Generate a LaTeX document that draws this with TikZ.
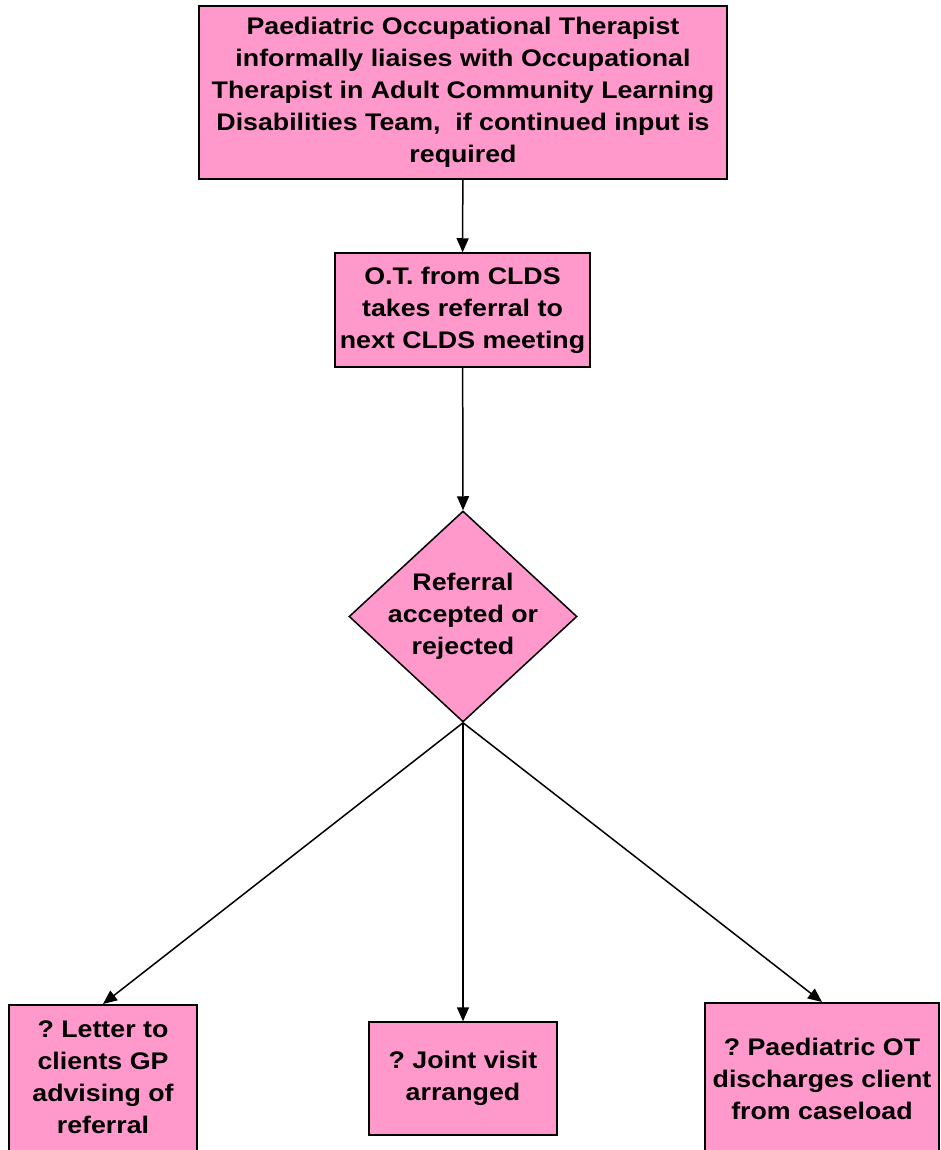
\documentclass[tikz,border=0pt]{standalone}
\usepackage{fontspec}
\setmainfont{Liberation Sans}[FakeStretch=1.115]
\usetikzlibrary{arrows.meta,shapes.geometric}
\definecolor{boxpink}{RGB}{255,153,204}
\begin{document}
\begin{tikzpicture}[x=1pt,y=-1pt,
  box/.style={draw=black, line width=1.5pt, fill=boxpink, inner sep=0pt},
  txt/.style={align=center, inner sep=0pt, font=\fontsize{24}{32}\selectfont\bfseries},
  conn/.style={line width=1.5pt, -{Triangle[length=14pt,width=12pt]}}]
\useasboundingbox (0,0) rectangle (940,1150);
\clip (0,0) rectangle (940,1150);

% process boxes
\node[box, txt, minimum width=528pt, minimum height=173pt] (liaise) at (463,92.5)
  {Paediatric Occupational Therapist\\informally liaises with Occupational\\Therapist in Adult Community Learning\\Disabilities Team,\ \ if continued input is\\required};
\node[box, txt, minimum width=255pt, minimum height=114pt] (meeting) at (462.5,310)
  {O.T. from CLDS\\takes referral to\\next CLDS meeting};

% decision
\node[diamond, draw=black, line width=1.5pt, fill=boxpink, inner sep=0pt,
      minimum width=228pt, minimum height=211pt,
      label={[txt]center:Referral\\accepted or\\rejected}] (decide) at (463,616.5) {};

% outcomes (left and right boxes run past the lower edge)
\node[box, minimum width=188pt, minimum height=180pt, anchor=north] (letter) at (103,1004) {};
\node[txt] (lettertext) at (103,1077) {?~Letter to\\clients GP\\advising of\\referral};
\node[box, txt, minimum width=188pt, minimum height=113pt] (visit) at (463,1078.5)
  {?~Joint visit\\arranged};
\node[box, minimum width=234pt, minimum height=180pt, anchor=north] (discharge) at (822,1002) {};
\node[txt] (dischargetext) at (822,1079) {?~Paediatric OT\\discharges client\\from caseload};

% connectors
\draw[conn] (liaise) -- (meeting);
\draw[conn] (meeting) -- (decide.north);
\draw[conn] (decide.south) -- (letter.north);
\draw[conn] (decide.south) -- (visit.north);
\draw[conn] (decide.south) -- (discharge.north);
\end{tikzpicture}
\end{document}
